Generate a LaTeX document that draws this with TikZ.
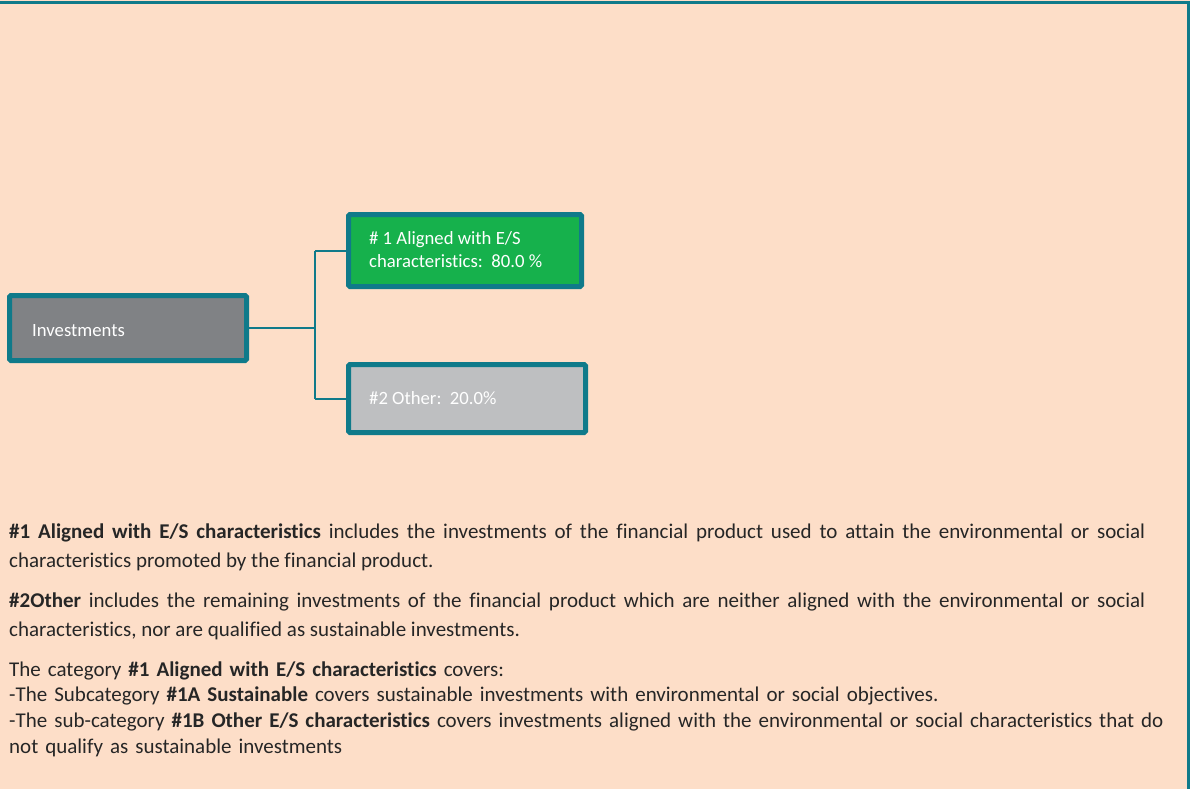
\documentclass[tikz,border=0pt]{standalone}
\usepackage{fontspec}
\setmainfont{Carlito}[Ligatures=NoCommon]
\definecolor{peach}{RGB}{253,222,200}
\definecolor{teal}{RGB}{15,122,138}
\definecolor{invgray}{RGB}{128,130,133}
\definecolor{esgreen}{RGB}{22,177,76}
\definecolor{othgray}{RGB}{190,191,193}
\definecolor{bodytext}{RGB}{38,38,38}
\newcommand\nohyphenation{\hyphenpenalty=10000\relax\exhyphenpenalty=10000\relax}
\tikzset{
  boxshape/.style={draw=teal, line width=5pt, rounded corners=1.5pt, inner sep=0pt},
  boxtext/.style={text=white, inner sep=0pt, font=\fontsize{18.7}{23}\selectfont, align=left},
  conn/.style={draw=teal, line width=2pt},
  frameline/.style={draw=teal, line width=3pt},
  para/.style={text=bodytext, inner sep=0pt, anchor=north west, text width=1136pt, align=justify, font=\fontsize{21}{29.5}\selectfont\nohyphenation},
  paratight/.style={para, text width=1170pt, align=left, font=\fontsize{21}{25.6}\selectfont\nohyphenation}
}
\begin{document}
\begin{tikzpicture}[x=1pt, y=-1pt]
\useasboundingbox (0,0) rectangle (1190,789);
\fill[peach] (0,0) rectangle (1190,789);
\draw[frameline] (0,2.5) -- (1188.5,2.5) -- (1188.5,789);

% boxes
\node[boxshape, fill=invgray, minimum width=237pt, minimum height=65pt] (inv) at (128,328) {};
\node[boxshape, fill=esgreen, minimum width=233pt, minimum height=72pt] (al) at (465,250.5) {};
\node[boxshape, fill=othgray, minimum width=237pt, minimum height=68pt] (ot) at (467,398.5) {};

\node[boxtext, anchor=base west] (invt) at (32,336) {Investments};
\node[boxtext, anchor=north west] (alt) at (369,227.9) {\strut\# 1 Aligned with E/S\\characteristics:\ \ 80.0 \%};
\node[boxtext, anchor=base west] (ott) at (369,404) {\#2 Other:\ \ 20.0\%};

% connectors
\draw[conn] (inv.east) -- ++(66,0) coordinate (j);
\draw[conn] (j |- al.west) -- (j |- ot.west);
\draw[conn] (j |- al.west) -- (al.west);
\draw[conn] (j |- ot.west) -- (ot.west);

% explanatory text
\node[para] (p1) at (9,517.4) {\strut\textbf{\#1 Aligned with E/S characteristics} includes the investments of the financial product used to attain the environmental or social characteristics promoted by the financial product.};
\node[para] (p2) at (9,586.4) {\strut\textbf{\#2Other} includes the remaining investments of the financial product which are neither aligned with the environmental or social characteristics, nor are qualified as sustainable investments.};
\node[paratight] (p3) at (9,658.1) {\strut The category \textbf{\#1 Aligned with E/S characteristics} covers:\\
-The Subcategory \textbf{\#1A Sustainable} covers sustainable investments with environmental or social objectives.\\
-The sub-category \textbf{\#1B Other E/S characteristics} covers investments aligned with the environmental or social characteristics that do\\
not qualify as sustainable investments};
\end{tikzpicture}
\end{document}
